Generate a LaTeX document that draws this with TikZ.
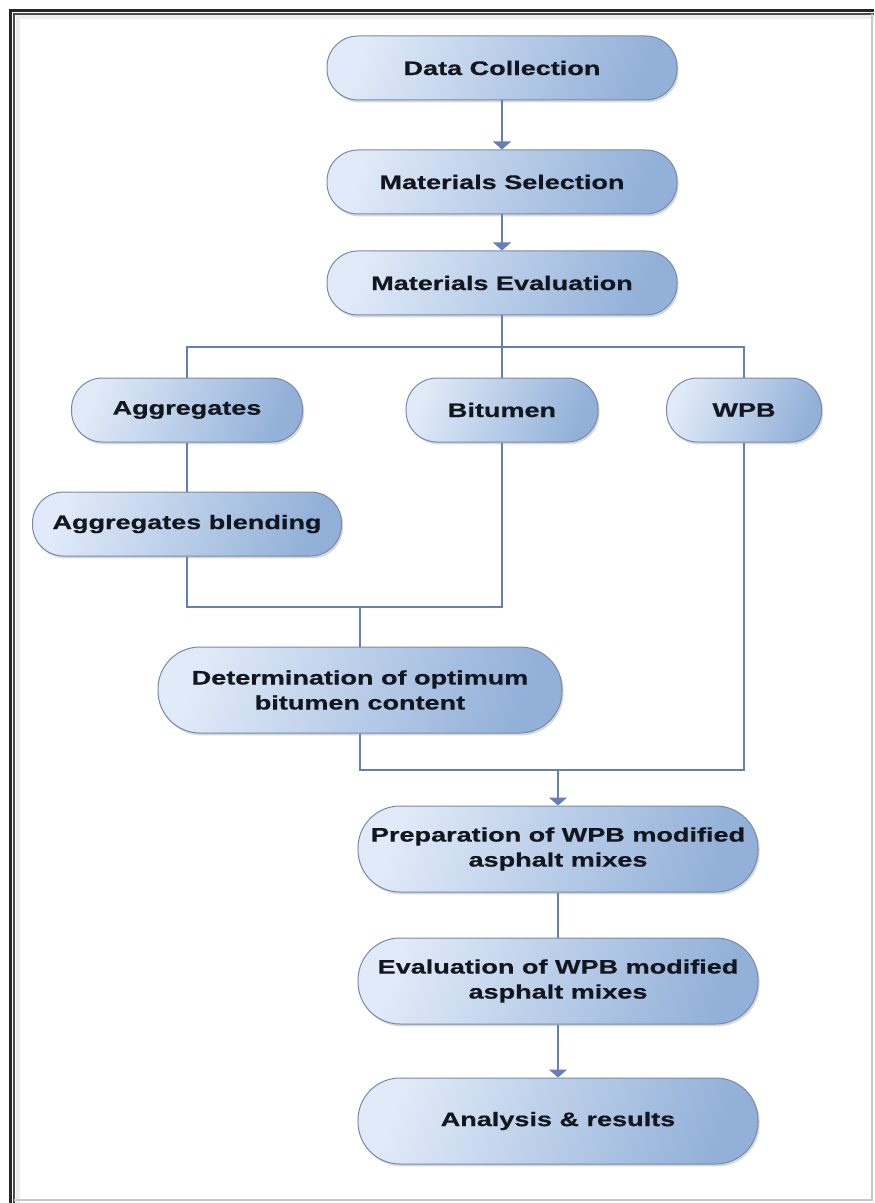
\documentclass[tikz,border=0pt]{standalone}
\usepackage{fontspec}
\newfontfamily\flowfont[FakeStretch=1.38, BoldFeatures={FakeBold=0.6}]{Liberation Sans}
\usepackage{tikz}
\usetikzlibrary{arrows.meta,shadows}
\definecolor{boxlight}{RGB}{224,234,248}
\definecolor{boxdark}{RGB}{146,176,216}
\definecolor{boxdraw}{RGB}{118,138,170}
\definecolor{linkblue}{RGB}{100,128,178}
\definecolor{textdark}{RGB}{18,22,30}

\begin{document}
\begin{tikzpicture}[x=0.5pt, y=-0.5pt,
      stage/.style={draw=boxdraw, line width=0.5pt,
                  left color=boxlight, right color=boxdark, shading angle=70,
                  rounded corners=15.5pt,
                  minimum height=32pt, inner sep=1pt, align=center,
                  text=textdark,
                  font={\flowfont\bfseries\fontsize{9.8}{12.5}\selectfont},
                  drop shadow={shadow xshift=0.8pt, shadow yshift=-1.2pt,
                               opacity=0.25, fill=black!60}},
      stagetwo/.style={stage, rounded corners=21pt, minimum height=43pt},
      link/.style={draw=linkblue, line width=0.7pt},
      flowtip/.style={-{Triangle[width=9pt, length=4pt]}},
    ]
    \useasboundingbox (0,0) rectangle (874,1203);
    %% page frame
    \draw[black!85, line width=1.2pt] (10.5,1203) -- (10.5,10.5) -- (874,10.5);
    \draw[black!70, line width=0.6pt] (14,1203) -- (14,14) -- (874,14);
    \draw[black!7, line width=2pt] (17.5,1203) -- (17.5,17.5) -- (874,17.5);
    \draw[black!22, line width=1pt] (872,14) -- (872,1200) -- (14,1200);
    %% main column
    \node[stage, minimum width=175pt] (dc) at (502,68) {Data Collection};
    \node[stage, minimum width=175pt] (ms) at (502,182) {Materials Selection};
    \node[stage, minimum width=175pt] (me) at (502,283) {Materials Evaluation};
    %% materials
    \node[stage, minimum width=115.5pt] (agg) at (187,410) {Aggregates};
    \node[stage, minimum width=96pt] (bit) at (502,410) {Bitumen};
    \node[stage, minimum width=77.5pt] (wpb) at (744,410) {WPB};
    \node[stage, minimum width=154.5pt] (blend) at (187,524) {Aggregates blending};
    %% mix design
    \node[stagetwo, minimum width=202pt] (opt) at (360,690)
      {Determination of optimum\\bitumen content};
    \node[stagetwo, minimum width=200pt] (prep) at (558,849)
      {Preparation of WPB modified\\asphalt mixes};
    \node[stagetwo, minimum width=200pt] (evl) at (558,981)
      {Evaluation of WPB modified\\asphalt mixes};
    \node[stagetwo, minimum width=200pt] (ana) at (558,1121) {Analysis \& results};
    %% junction points
    \coordinate (split) at (502,347);
    \coordinate (meet1) at (360,607);
    \coordinate (meet2) at (558,770);
    %% connectors
    \draw[link, flowtip] (dc.south) -- (ms.north);
    \draw[link, flowtip] (ms.south) -- (me.north);
    \draw[link] (me.south) -- (bit.north);
    \draw[link] (agg.north) |- (split) -| (wpb.north);
    \draw[link] (agg.south) -- (blend.north);
    \draw[link] (blend.south) |- (meet1) -| (bit.south);
    \draw[link] (meet1) -- (opt.north);
    \draw[link] (opt.south) |- (meet2) -| (wpb.south);
    \draw[link, flowtip] (meet2) -- (prep.north);
    \draw[link] (prep.south) -- (evl.north);
    \draw[link, flowtip] (evl.south) -- (ana.north);
\end{tikzpicture}
\end{document}
